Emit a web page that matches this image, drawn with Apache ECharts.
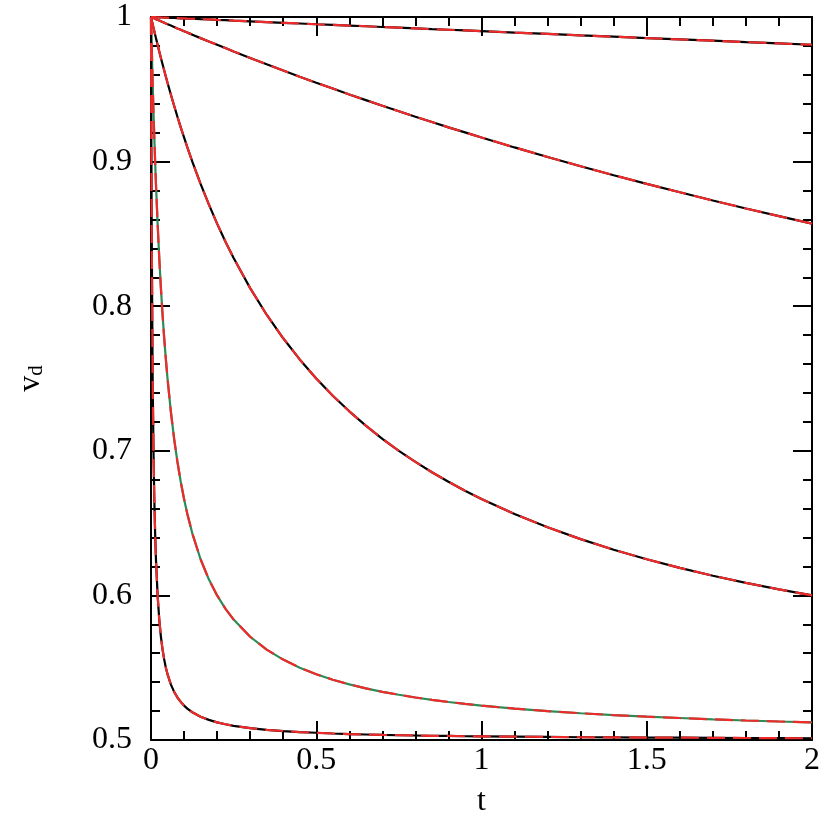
<!DOCTYPE html>
<html>
<head>
<meta charset="utf-8">
<script src="https://cdn.jsdelivr.net/npm/echarts@6/dist/echarts.min.js"></script>
<style>html,body{margin:0;padding:0;background:#fff;}#c{width:830px;height:830px;}</style>
</head>
<body>
<div id="c"></div>
<script>
// time samples
var tVals = [0, 0.001, 0.002, 0.005, 0.0075, 0.01, 0.0125, 0.015, 0.02, 0.025, 0.03, 0.035, 0.04, 0.045, 0.05, 0.06, 0.07, 0.08, 0.09, 0.1, 0.11, 0.125, 0.15, 0.175, 0.2, 0.225, 0.25, 0.3, 0.35, 0.4, 0.45, 0.5, 0.55, 0.6, 0.65, 0.7, 0.75, 0.8, 0.85, 0.9, 0.95, 1.0, 1.1, 1.2, 1.3, 1.4, 1.5, 1.6, 1.7, 1.8, 1.9, 2.0];
// curve values (top to bottom)
var vA = [1, 1, 1, 0.99995, 0.99993, 0.9999, 0.99988, 0.99985, 0.9998, 0.99975, 0.9997, 0.99965, 0.9996, 0.99955, 0.9995, 0.9994, 0.9993, 0.9992, 0.9991, 0.999, 0.9989, 0.9988, 0.9985, 0.9983, 0.998, 0.9978, 0.9975, 0.997, 0.9965, 0.996, 0.9955, 0.995, 0.9946, 0.9941, 0.9936, 0.9931, 0.9926, 0.9921, 0.9916, 0.9912, 0.9907, 0.9902, 0.9892, 0.9883, 0.9873, 0.9864, 0.9854, 0.9845, 0.9836, 0.9826, 0.9817, 0.9808];
var vB = [1, 0.9999, 0.9998, 0.9995, 0.99925, 0.999, 0.99875, 0.9985, 0.998, 0.9975, 0.997, 0.9965, 0.996, 0.9955, 0.995, 0.9941, 0.9931, 0.9921, 0.9912, 0.9902, 0.9892, 0.9878, 0.9854, 0.9831, 0.9808, 0.9785, 0.9762, 0.9717, 0.9673, 0.963, 0.9587, 0.9545, 0.9505, 0.9464, 0.9425, 0.9386, 0.9348, 0.931, 0.9274, 0.9237, 0.9202, 0.9167, 0.9098, 0.9032, 0.8968, 0.8906, 0.8846, 0.8788, 0.8731, 0.8676, 0.8623, 0.8571];
var vC = [1, 0.999, 0.998, 0.995, 0.9926, 0.9902, 0.9878, 0.9854, 0.9808, 0.9762, 0.9717, 0.9673, 0.963, 0.9587, 0.9545, 0.9464, 0.9386, 0.931, 0.9237, 0.9167, 0.9098, 0.9, 0.8846, 0.8704, 0.8571, 0.8448, 0.8333, 0.8125, 0.7941, 0.7778, 0.7632, 0.75, 0.7381, 0.7273, 0.7174, 0.7083, 0.7, 0.6923, 0.6852, 0.6786, 0.6724, 0.6667, 0.6563, 0.6471, 0.6389, 0.6316, 0.625, 0.619, 0.6136, 0.6087, 0.6042, 0.6];
var vD = [1, 0.9902, 0.9808, 0.9545, 0.9348, 0.9167, 0.9, 0.8846, 0.8571, 0.8333, 0.8125, 0.7941, 0.7778, 0.7632, 0.75, 0.7273, 0.7083, 0.6923, 0.6786, 0.6667, 0.6563, 0.6429, 0.625, 0.6111, 0.6, 0.5909, 0.5833, 0.5714, 0.5625, 0.5556, 0.55, 0.5455, 0.5417, 0.5385, 0.5357, 0.5333, 0.5313, 0.5294, 0.5278, 0.5263, 0.525, 0.5238, 0.5217, 0.52, 0.5185, 0.5172, 0.5161, 0.5152, 0.5143, 0.5135, 0.5128, 0.5122];
var vE = [1, 0.9167, 0.8571, 0.75, 0.7, 0.6667, 0.6429, 0.625, 0.6, 0.5833, 0.5714, 0.5625, 0.5556, 0.55, 0.5455, 0.5385, 0.5333, 0.5294, 0.5263, 0.5238, 0.5217, 0.5192, 0.5161, 0.5139, 0.5122, 0.5109, 0.5098, 0.5082, 0.507, 0.5062, 0.5055, 0.505, 0.5045, 0.5041, 0.5038, 0.5035, 0.5033, 0.5031, 0.5029, 0.5028, 0.5026, 0.5025, 0.5023, 0.5021, 0.5019, 0.5018, 0.5017, 0.5016, 0.5015, 0.5014, 0.5013, 0.5012];
var xTicks = [0, 0.5, 1, 1.5, 2];
var yTicks = [0.5, 0.6, 0.7, 0.8, 0.9, 1];

var curves = [vA, vB, vC, vD, vE];
var baseColors = ['#000000', '#000000', '#000000', '#2e8b57', '#000000'];

function pairs(v){ return tVals.map(function(t,i){ return [t, v[i]]; }); }

var series = [];
curves.forEach(function(v, i){
  series.push({type:'line', data:pairs(v), showSymbol:false, symbol:'none', silent:true,
    lineStyle:{color:baseColors[i], width:2.2, type:'solid'}, z:2});
});
curves.forEach(function(v, i){
  series.push({type:'line', data:pairs(v), showSymbol:false, symbol:'none', silent:true,
    lineStyle:{color:'#ee2a2a', width:2.2, type:[18,8]}, z:3});
});

var font = '"Liberation Serif","Times New Roman",serif';
var axisLine = {show:true, onZero:false, lineStyle:{color:'#000', width:2}};
var tick = {show:true, inside:true, length:19, lineStyle:{color:'#000', width:2}};
var minor = {show:true, splitNumber:5, length:9, lineStyle:{color:'#000', width:2}};

var chart = echarts.init(document.getElementById('c'), null, {renderer:'canvas'});
chart.setOption({
  animation:false,
  backgroundColor:'#fff',
  grid:{left:151, right:18, top:17, bottom:90, containLabel:false},
  xAxis:[
    {type:'value', min:xTicks[0], max:xTicks[xTicks.length-1], interval:0.5, position:'bottom',
     name:'t', nameLocation:'middle', nameGap:46,
     nameTextStyle:{fontFamily:font, fontSize:32, color:'#000'},
     axisLine:axisLine, axisTick:tick, minorTick:minor, splitLine:{show:false},
     axisLabel:{fontFamily:font, fontSize:32, color:'#000', margin:5,
       formatter:function(v){ return String(v); }}},
    {type:'value', min:xTicks[0], max:xTicks[xTicks.length-1], interval:0.5, position:'top',
     axisLine:axisLine, axisTick:tick, minorTick:minor, splitLine:{show:false}, axisLabel:{show:false}}
  ],
  yAxis:[
    {type:'value', min:yTicks[0], max:yTicks[yTicks.length-1], interval:0.1, position:'left',
     name:'{v|v}{d|d}', nameLocation:'middle', nameGap:104, nameRotate:90,
     nameTextStyle:{fontFamily:font, color:'#000', rich:{
       v:{fontFamily:font, fontSize:32, color:'#000'},
       d:{fontFamily:font, fontSize:21, color:'#000', verticalAlign:'bottom', padding:[12,0,0,0]}}},
     axisLine:axisLine, axisTick:tick, minorTick:minor, splitLine:{show:false},
     axisLabel:{fontFamily:font, fontSize:32, color:'#000', margin:19,
       formatter:function(v){ return String(Math.round(v*10)/10); }}},
    {type:'value', min:yTicks[0], max:yTicks[yTicks.length-1], interval:0.1, position:'right',
     axisLine:axisLine, axisTick:tick, minorTick:minor, splitLine:{show:false}, axisLabel:{show:false}}
  ],
  series:series
});
</script>
</body>
</html>
